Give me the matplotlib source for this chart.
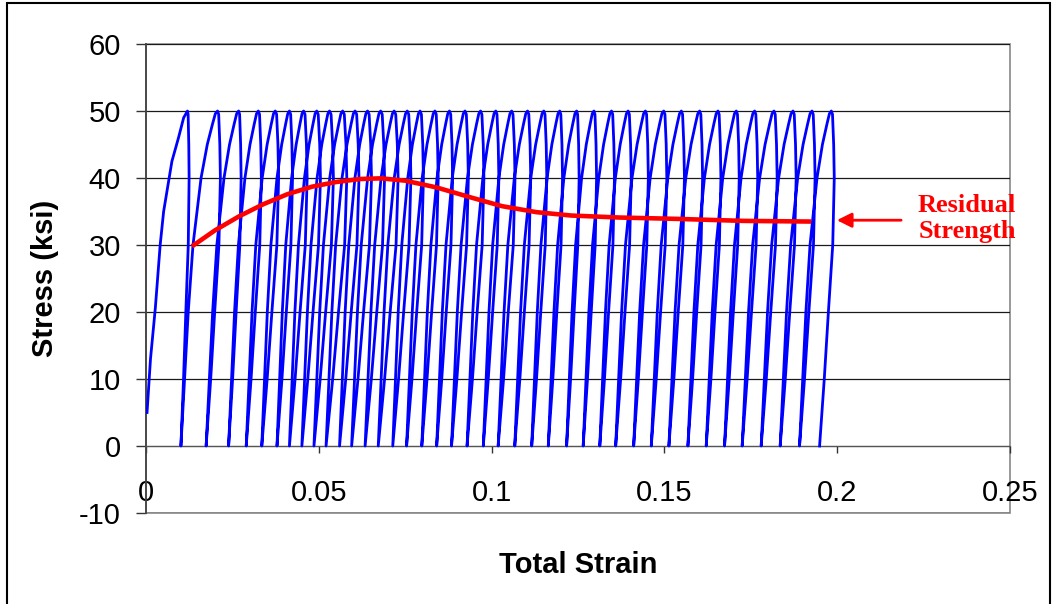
import numpy as np
import matplotlib.pyplot as plt
from matplotlib.patches import Rectangle

plt.rcParams['font.family'] = ['Liberation Sans', 'DejaVu Sans']
plt.rcParams['axes.unicode_minus'] = False

# first loading branch up to the 50 ksi cap
first_strain = [0.0003, 0.0013, 0.0027, 0.0041, 0.0051, 0.0075, 0.0094, 0.0109, 0.0120]
first_stress = [5, 13, 20.6, 30, 35, 42.5, 46, 49, 50]

# strain at every 50 ksi peak and at the zero-stress point after each unload
peak_strain = [0.0120, 0.0207, 0.0268, 0.0325, 0.0374, 0.0415, 0.0456, 0.0494, 0.0531, 0.0569,
               0.0605, 0.0641, 0.0679, 0.0718, 0.0756, 0.0793, 0.0836, 0.0878, 0.0923, 0.0968,
               0.1012, 0.1058, 0.1104, 0.1151, 0.1197, 0.1246, 0.1296, 0.1347, 0.1395, 0.1445,
               0.1498, 0.1549, 0.1602, 0.1655, 0.1708, 0.1761, 0.1817, 0.1872, 0.1927, 0.1983]
zero_strain = [0.0101, 0.0174, 0.0239, 0.0290, 0.0335, 0.0379, 0.0415, 0.0451, 0.0486, 0.0521,
               0.0560, 0.0595, 0.0634, 0.0672, 0.0714, 0.0754, 0.0798, 0.0841, 0.0884, 0.0929,
               0.0976, 0.1019, 0.1067, 0.1116, 0.1164, 0.1217, 0.1265, 0.1313, 0.1359, 0.1411,
               0.1462, 0.1513, 0.1568, 0.1621, 0.1674, 0.1725, 0.1780, 0.1835, 0.1891, 0.1949]

# reload branch: share of the zero-to-next-peak strain reached at each stress
reload_stress = [0, 10, 20, 30, 40, 45, 48, 49.6, 50]
reload_frac = [0, 0.1, 0.2, 0.33, 0.55, 0.72, 0.86, 0.94, 1.0]
# unload branch: share of the peak-to-zero strain given back at each stress
unload_stress = [50, 49.5, 45, 40, 30, 20, 10, 0]
unload_frac = [0, -0.1, -0.2, -0.25, -0.12, 0.25, 0.6, 1.0]

# residual strength envelope
resid_strain = [0.0133, 0.0200, 0.0270, 0.0340, 0.0410, 0.0480, 0.0550, 0.0620, 0.0680,
                0.0750, 0.0840, 0.0940, 0.1030, 0.1130, 0.1230, 0.1370, 0.1535, 0.1727, 0.1925]
resid_stress = [29.8, 32.2, 34.3, 36.1, 37.6, 38.7, 39.4, 39.85, 39.95,
                39.6, 38.6, 37.1, 35.8, 34.9, 34.4, 34.1, 33.9, 33.6, 33.5]

# stitch the hysteresis path together
xs = list(first_strain)
ys = list(first_stress)
for i in range(len(peak_strain)):
    p, z = peak_strain[i], zero_strain[i]
    for s, f in zip(unload_stress[1:], unload_frac[1:]):
        xs.append(p - f * (p - z))
        ys.append(s)
    if i + 1 < len(peak_strain):
        nxt = peak_strain[i + 1]
        for s, f in zip(reload_stress[1:], reload_frac[1:]):
            xs.append(z + f * (nxt - z))
            ys.append(s)

fig = plt.figure(figsize=(10.55, 6.04), dpi=100)
ax = fig.add_axes([146 / 1055, 91 / 604, 864 / 1055, 469 / 604])

ax.plot(xs, ys, color='#0000FF', lw=2.0, solid_joinstyle='round', zorder=3)
ax.plot(resid_strain, resid_stress, color='#FF0000', lw=3.3, solid_capstyle='butt',
        solid_joinstyle='round', zorder=4)

ax.set_xlim(0, 0.25)
ax.set_ylim(-10, 60)
ax.set_xticks([0, 0.05, 0.1, 0.15, 0.2, 0.25])
ax.set_xticklabels(['0', '0.05', '0.1', '0.15', '0.2', '0.25'])
ax.set_yticks(range(-10, 61, 10))
ax.yaxis.grid(True, color='#1a1a1a', lw=0.9)
ax.set_axisbelow(True)

for side in ['top', 'right']:
    ax.spines[side].set_visible(False)
ax.spines['bottom'].set_position(('data', 0))
ax.spines['bottom'].set_color('#555555')
ax.spines['left'].set_color('#444444')
ax.spines['left'].set_linewidth(1.3)
ax.add_patch(Rectangle((0, 0), 1, 1, transform=ax.transAxes, fill=False,
                       edgecolor='#888888', lw=1.2, zorder=0, clip_on=False))

ax.tick_params(axis='x', direction='out', length=5, width=1, pad=19, labelsize=21, color='#333333')
ax.tick_params(axis='y', direction='out', length=7, width=1, pad=11, labelsize=21, color='#333333')

ax.annotate('', xy=(0.1999, 33.7), xytext=(0.2185, 33.7),
            arrowprops=dict(arrowstyle='-|>', color='#FF0000', lw=2, mutation_scale=22,
                            shrinkA=0, shrinkB=0))
ax.text(0.2376, 34.0, 'Residual\nStrength', color='#FF0000', fontsize=19,
        fontweight='bold', family='Liberation Serif', ha='center', va='center',
        linespacing=1.15, clip_on=False)

fig.text(45 / 1055, 1 - 278 / 604, 'Stress (ksi)', rotation=90, ha='center', va='center',
         fontsize=21, fontweight='bold')
fig.text(578 / 1055, 1 - 565 / 604, 'Total Strain', ha='center', va='center',
         fontsize=21, fontweight='bold')

fig.patches.append(Rectangle((7 / 1055, -0.01), 1043 / 1055, 1 - 3 / 604 + 0.01,
                             transform=fig.transFigure, fill=False, edgecolor='black', lw=1.5))

fig.savefig('out.png', dpi=100)
